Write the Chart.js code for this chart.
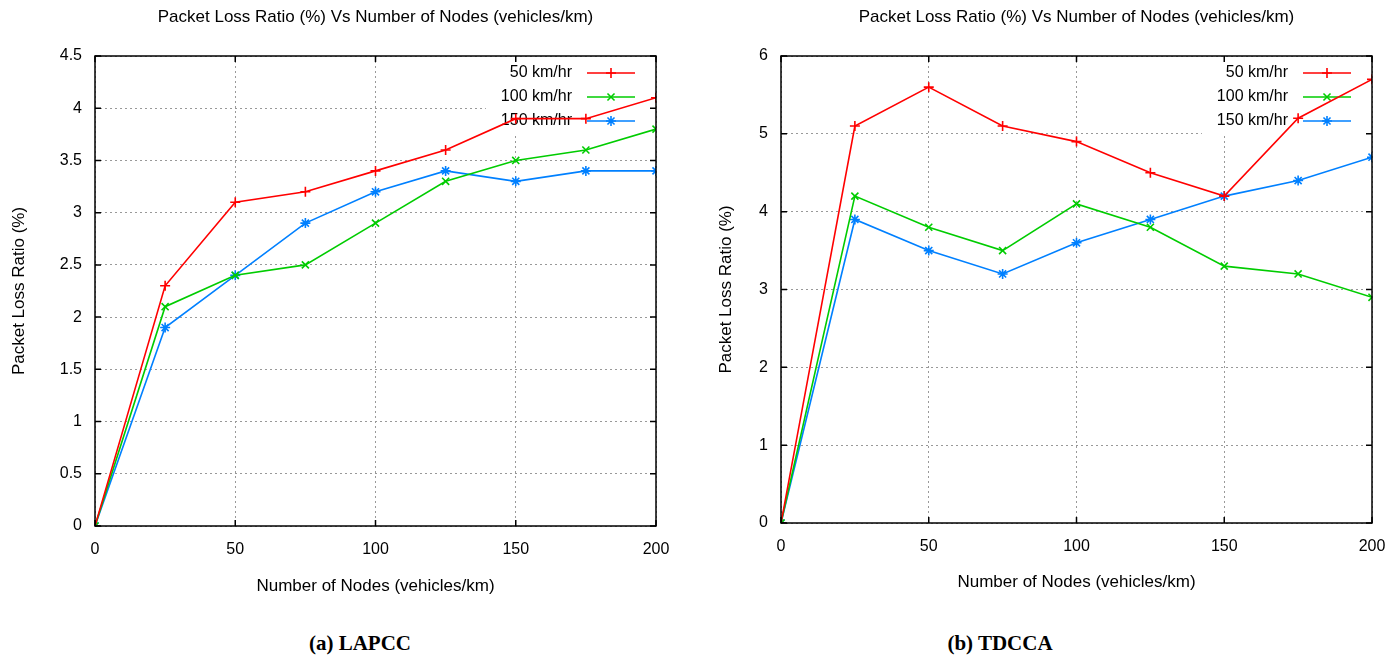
<!DOCTYPE html>
<html>
<head>
<meta charset="utf-8">
<script src="https://cdn.jsdelivr.net/npm/chart.js@4.4.0/dist/chart.umd.min.js"></script>
<style>
  body { margin: 0; background: #fff; width: 1400px; height: 660px; position: relative; overflow: hidden; }
  .panel { position: absolute; top: 0; width: 700px; height: 620px; }
  .caption { position: absolute; top: 631px; width: 300px; text-align: center;
    font: bold 21px "Liberation Serif", "Times New Roman", serif; color: #000; }
</style>
</head>
<body>
<div class="panel" style="left:0"><canvas id="lapccChart"></canvas></div>
<div class="panel" style="left:700px"><canvas id="tdccaChart"></canvas></div>
<div class="caption" style="left:210px">(a) LAPCC</div>
<div class="caption" style="left:850px">(b) TDCCA</div>
<script>
const nodes = [0, 25, 50, 75, 100, 125, 150, 175, 200];
const speedLabels = ["50 km/hr", "100 km/hr", "150 km/hr"];
const speedColors = ["#ff0000", "#00cc00", "#0080ff"];
const speedMarkers = ["cross", "crossRot", "star"];

const lapcc50 = [0, 2.3, 3.1, 3.2, 3.4, 3.6, 3.9, 3.9, 4.1];
const lapcc100 = [0, 2.1, 2.4, 2.5, 2.9, 3.3, 3.5, 3.6, 3.8];
const lapcc150 = [0, 1.9, 2.4, 2.9, 3.2, 3.4, 3.3, 3.4, 3.4];

const tdcca50 = [0, 5.1, 5.6, 5.1, 4.9, 4.5, 4.2, 5.2, 5.7];
const tdcca100 = [0, 4.2, 3.8, 3.5, 4.1, 3.8, 3.3, 3.2, 2.9];
const tdcca150 = [0, 3.9, 3.5, 3.2, 3.6, 3.9, 4.2, 4.4, 4.7];

const chartTitle = "Packet Loss Ratio (%) Vs Number of Nodes (vehicles/km)";
const xTitle = "Number of Nodes (vehicles/km)";
const yTitle = "Packet Loss Ratio (%)";

const sansFont = "'Liberation Sans', Arial, sans-serif";

// gnuplot style: boxed plot with inward ticks, key with opaque background under the lines
const gnuplotFrame = {
  id: "gnuplotFrame",
  beforeDatasetsDraw(chart) {
    const { ctx, chartArea: area } = chart;
    ctx.save();
    ctx.font = "16px " + sansFont;
    const widest = Math.max(...chart.data.datasets.map(ds => ctx.measureText(ds.label).width));
    const textRight = area.right - 84;
    const boxLeft = textRight - widest - 15;
    ctx.fillStyle = "#fff";
    ctx.fillRect(boxLeft, area.top + 2, area.right - 2 - boxLeft, 76);
    chart.data.datasets.forEach((ds, i) => {
      const y = area.top + 17 + i * 24;
      ctx.fillStyle = "#000";
      ctx.textAlign = "right";
      ctx.textBaseline = "middle";
      ctx.fillText(ds.label, textRight, y);
      ctx.strokeStyle = ds.borderColor;
      ctx.lineWidth = 1.6;
      ctx.beginPath();
      ctx.moveTo(area.right - 69, y);
      ctx.lineTo(area.right - 21, y);
      ctx.stroke();
      Chart.helpers.drawPoint(ctx, { pointStyle: ds.pointStyle, radius: 5, rotation: 0, borderWidth: 1.6 }, area.right - 45, y);
    });
    ctx.restore();
  },
  afterDraw(chart) {
    const { ctx, chartArea: area, scales } = chart;
    ctx.save();
    ctx.strokeStyle = "#000";
    ctx.lineWidth = 1.5;
    ctx.strokeRect(area.left, area.top, area.right - area.left, area.bottom - area.top);
    ctx.beginPath();
    scales.x.ticks.forEach(t => {
      const x = scales.x.getPixelForValue(t.value);
      ctx.moveTo(x, area.bottom); ctx.lineTo(x, area.bottom - 6);
      ctx.moveTo(x, area.top); ctx.lineTo(x, area.top + 6);
    });
    scales.y.ticks.forEach(t => {
      const y = scales.y.getPixelForValue(t.value);
      ctx.moveTo(area.left, y); ctx.lineTo(area.left + 6, y);
      ctx.moveTo(area.right, y); ctx.lineTo(area.right - 6, y);
    });
    ctx.stroke();
    ctx.restore();
  }
};

function makeDatasets(series) {
  return series.map((values, i) => ({
    label: speedLabels[i],
    data: nodes.map((n, j) => ({ x: n, y: values[j] })),
    borderColor: speedColors[i],
    backgroundColor: speedColors[i],
    borderWidth: 1.6,
    pointStyle: speedMarkers[i],
    pointRadius: 5,
    pointBorderWidth: 1.6,
    tension: 0
  }));
}

function makeChart(canvasId, series, yMax, yStep, layout) {
  return new Chart(document.getElementById(canvasId), {
    type: "line",
    data: { datasets: makeDatasets(series) },
    options: {
      responsive: true,
      maintainAspectRatio: false,
      animation: false,
      layout: { padding: { left: 0, top: 0, right: layout.right, bottom: 0 } },
      plugins: {
        legend: { display: false },
        tooltip: { enabled: false },
        title: {
          display: true,
          fullSize: false,
          text: chartTitle,
          color: "#000",
          font: { family: sansFont, size: 17, weight: "normal" },
          padding: { top: 7, bottom: 28.6 }
        }
      },
      scales: {
        x: {
          type: "linear",
          min: 0,
          max: 200,
          afterFit: scale => { scale.height = layout.xHeight; },
          ticks: { stepSize: 50, color: "#000", padding: 14, font: { family: sansFont, size: 16 } },
          grid: { color: "#999", lineWidth: 1, drawTicks: false },
          border: { display: false, dash: [2, 3] },
          title: { display: true, text: xTitle, color: "#000", font: { family: sansFont, size: 17 }, padding: { bottom: layout.xTitlePad } }
        },
        y: {
          min: 0,
          max: yMax,
          afterFit: scale => { scale.width = layout.yWidth; },
          ticks: { stepSize: yStep, color: "#000", padding: 13, font: { family: sansFont, size: 16 },
            callback: value => String(value) },
          grid: { color: "#999", lineWidth: 1, drawTicks: false },
          border: { display: false, dash: [2, 3] },
          title: { display: true, text: yTitle, color: "#000", font: { family: sansFont, size: 17 }, padding: { top: layout.yTitlePad } }
        }
      }
    },
    plugins: [gnuplotFrame]
  });
}

makeChart("lapccChart", [lapcc50, lapcc100, lapcc150], 4.5, 0.5,
  { right: 44, xHeight: 94, yWidth: 95, xTitlePad: 23, yTitlePad: 9 });
makeChart("tdccaChart", [tdcca50, tdcca100, tdcca150], 6, 1,
  { right: 28, xHeight: 97, yWidth: 81, xTitlePad: 27, yTitlePad: 16 });
</script>
</body>
</html>
